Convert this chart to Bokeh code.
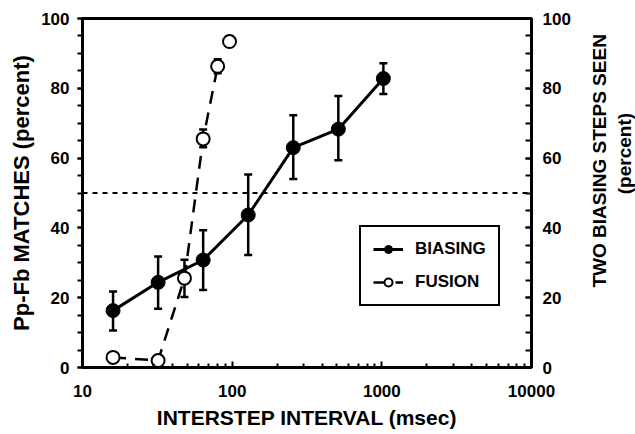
import math
from bokeh.plotting import figure
from bokeh.layouts import row
from bokeh.models import (Range1d, LinearAxis, FixedTicker, Whisker, TeeHead,
                          ColumnDataSource, Span, Legend, LegendItem, Label)
from bokeh.embed import file_html
from bokeh.resources import INLINE

# ---- data ----
biasing_x = [16, 32, 64, 128, 256, 512, 1024]
biasing_y = [16.3, 24.4, 30.8, 43.7, 63.0, 68.3, 82.8]
biasing_hi = [21.8, 31.8, 39.3, 55.3, 72.3, 77.8, 87.2]
biasing_lo = [10.6, 16.8, 22.2, 32.2, 54.0, 59.4, 78.4]

fusion_x = [16, 32, 48, 64, 80, 96]
fusion_y = [2.9, 2.0, 25.6, 65.5, 86.3, 93.4]
fusion_err_x = [48, 64, 80]
fusion_err_hi = [30.9, 68.2, 88.3]
fusion_err_lo = [20.2, 63.1, 84.3]

threshold = 50

x_ticks = [10, 100, 1000, 10000]
x_tick_labels = ["10", "100", "1000", "10000"]
x_minor = [m * d for d in [10, 100, 1000] for m in range(2, 10)]
y_ticks = [0, 20, 40, 60, 80, 100]
y_minor = list(range(0, 101, 5))

right_title_lines = ["TWO BIASING STEPS SEEN", "(percent)"]

FONT = "Liberation Sans"

p = figure(frame_width=449, frame_height=349, x_axis_type="log",
           x_range=Range1d(10, 10000), y_range=Range1d(0, 100),
           output_backend="svg", toolbar_location=None,
           min_border_left=82, min_border_right=51,
           min_border_top=18, min_border_bottom=67)
p.background_fill_color = "white"
p.border_fill_color = "white"
p.xgrid.visible = False
p.ygrid.visible = False
p.outline_line_color = "black"
p.outline_line_width = 3

# x axis
xa = p.xaxis[0]
xa.ticker = FixedTicker(ticks=x_ticks, minor_ticks=x_minor)
xa.major_label_overrides = {t: l for t, l in zip(x_ticks, x_tick_labels)}
xa.axis_label = "INTERSTEP INTERVAL (msec)"

# left axis
ya = p.yaxis[0]
ya.ticker = FixedTicker(ticks=y_ticks, minor_ticks=y_minor)
ya.axis_label = "Pp-Fb MATCHES (percent)"

# right axis
ra = LinearAxis(ticker=FixedTicker(ticks=y_ticks, minor_ticks=y_minor))
p.add_layout(ra, "right")

for ax in [xa, ya, ra]:
    ax.axis_line_width = 3
    ax.axis_line_color = "black"
    ax.major_tick_line_width = 2
    ax.minor_tick_line_width = 2
    ax.major_label_text_font = FONT
    ax.major_label_text_font_style = "bold"
    ax.major_label_text_font_size = "17px"
    ax.major_label_text_color = "black"
    ax.axis_label_text_font = FONT
    ax.axis_label_text_font_style = "bold"
    ax.axis_label_text_color = "black"

xa.major_tick_in = 6
xa.major_tick_out = 0
xa.minor_tick_in = 4
xa.minor_tick_out = 0
xa.major_label_standoff = 17
xa.axis_label_standoff = 6
xa.axis_label_text_font_size = "21px"

ya.major_tick_in = 0
ya.major_tick_out = 5
ya.minor_tick_in = 0
ya.minor_tick_out = 5
ya.major_label_standoff = 8
ya.axis_label_standoff = 4
ya.axis_label_text_font_size = "22px"

ra.major_tick_in = 6
ra.major_tick_out = 0
ra.minor_tick_in = 6
ra.minor_tick_out = 0
ra.major_label_standoff = 11

# reference line
p.add_layout(Span(location=threshold, dimension="width", line_color="black",
                  line_width=2, line_dash="5 5"))

# error bars
bsrc = ColumnDataSource(dict(x=biasing_x, y=biasing_y, hi=biasing_hi, lo=biasing_lo))
fsrc = ColumnDataSource(dict(x=fusion_x, y=fusion_y))
fesrc = ColumnDataSource(dict(x=fusion_err_x, hi=fusion_err_hi, lo=fusion_err_lo))

for src in [bsrc, fesrc]:
    w = Whisker(base="x", upper="hi", lower="lo", source=src, dimension="height",
                line_color="black", line_width=2.5, level="underlay",
                upper_head=TeeHead(size=8, line_width=2.5, line_color="black"),
                lower_head=TeeHead(size=8, line_width=2.5, line_color="black"))
    p.add_layout(w)

# fusion
f_line = p.line(fusion_x[:5], fusion_y[:5], line_color="black", line_width=2.5,
                line_dash="13 9")
f_pts = p.scatter("x", "y", source=fsrc, size=13, marker="circle",
                  fill_color="white", line_color="black", line_width=2)

# biasing
b_line = p.line("x", "y", source=bsrc, line_color="black", line_width=3)
b_pts = p.scatter("x", "y", source=bsrc, size=14, marker="circle",
                  fill_color="black", line_color="black")

legend = Legend(items=[LegendItem(label="BIASING", renderers=[b_line, b_pts]),
                       LegendItem(label="FUSION", renderers=[f_line, f_pts])],
                location=(277, 61))
legend.border_line_color = "black"
legend.border_line_alpha = 1
legend.border_line_width = 2.5
legend.background_fill_color = "white"
legend.background_fill_alpha = 1
legend.label_text_font = FONT
legend.label_text_font_style = "bold"
legend.label_text_font_size = "17px"
legend.label_text_color = "black"
legend.glyph_width = 30
legend.glyph_height = 20
legend.label_height = 20
legend.spacing = 13
legend.padding = 12
legend.margin = 0
legend.label_standoff = 12
p.add_layout(legend)

# right-hand title strip (reads bottom to top)
s = figure(width=53, height=434, x_range=Range1d(0, 53), y_range=Range1d(0, 434),
           output_backend="svg", toolbar_location=None,
           x_axis_location=None, y_axis_location=None,
           min_border=0)
s.outline_line_color = None
s.xgrid.visible = False
s.ygrid.visible = False
s.background_fill_color = "white"
s.border_fill_color = "white"
for txt, sx, sy in zip(right_title_lines, [17, 42], [257, 266]):
    s.add_layout(Label(x=sx, y=sy, text=txt, angle=math.pi / 2,
                       text_align="center", text_baseline="middle",
                       text_font=FONT, text_font_style="bold",
                       text_font_size="19px", text_color="black"))

layout = row(p, s, spacing=0)
open("out.html", "w").write(file_html(layout, INLINE))
